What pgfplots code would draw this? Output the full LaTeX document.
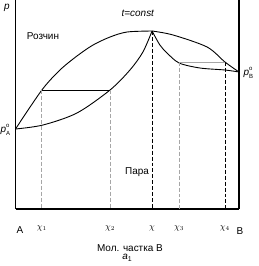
\documentclass[border=0pt]{standalone}
\usepackage{amsmath}
\usepackage{fontspec}
\setmainfont{Liberation Sans}
\usepackage{pgfplots}
\pgfplotsset{compat=1.18}
\newcommand{\pzero}[1]{\textit{p}\rlap{\raisebox{5.5pt}{\fontsize{6}{6}\selectfont o}}\raisebox{-3pt}{\fontsize{6}{6}\selectfont #1}}
\begin{document}
\fontsize{10}{12}\selectfont
\begin{tikzpicture}
\begin{axis}[
  width=223.5bp, height=209bp, scale only axis,
  xmin=0, xmax=1, ymin=0, ymax=209,
  axis x line=bottom, axis y line=left,
  axis line style={-, line width=1.1pt},
  ytick=\empty,
  xtick={0.118,0.423,0.611,0.732,0.937},
  xticklabels={$\chi_1$,$\chi_2$,$\chi$,$\chi_3$,$\chi_4$},
  major tick length=0pt,
  xticklabel style={yshift=-13pt, font=\small},
  clip=false,
]
% liquid curve (upper)
\addplot[black, line width=0.9pt, smooth] coordinates {
 (0,80) (0.118,119) (0.199,139) (0.275,153) (0.347,164) (0.423,172) (0.499,177) (0.611,178)};
\addplot[black, line width=0.9pt, smooth] coordinates {
 (0.611,178) (0.705,174) (0.857,162) (0.937,147) (1,137)};
% vapour curve (lower)
\addplot[black, line width=0.9pt, smooth] coordinates {
 (0,80) (0.123,84) (0.275,96) (0.423,119) (0.512,139) (0.570,157) (0.611,178)};
\addplot[black, line width=0.9pt, smooth, tension=0.5] coordinates {
 (0.611,178) (0.646,164) (0.678,156) (0.732,146) (0.825,141) (0.937,139) (1,137)};
% tie lines
\addplot[black, line width=0.9pt] coordinates {(0.118,119) (0.423,119)};
\addplot[gray!70, line width=0.9pt] coordinates {(0.732,147) (0.937,147)};
% vertical dashed lines
\addplot[gray!70, line width=0.9pt, dash pattern=on 4pt off 2pt] coordinates {(0.118,119) (0.118,0)};
\addplot[gray!70, line width=0.9pt, dash pattern=on 4pt off 2pt] coordinates {(0.423,119) (0.423,0)};
\addplot[black, line width=0.8pt, dash pattern=on 4pt off 2pt] coordinates {(0.611,178) (0.611,0)};
\addplot[gray!70, line width=0.9pt, dash pattern=on 4pt off 2pt] coordinates {(0.732,147) (0.732,0)};
\addplot[black, line width=0.8pt, dash pattern=on 4pt off 2pt] coordinates {(0.937,147) (0.937,0)};
% right border
\draw[line width=1.1pt] (axis cs:1,0) -- (axis cs:1,209);
% labels
\node at (axis cs:-0.038,201) {\textit{p}};
\node at (axis cs:0.548,196) {\textit{t=const}};
\node at (axis cs:0.123,173) {Розчин};
\node at (axis cs:0.544,37) {Пара};
\node[inner sep=0pt] at (axis cs:-0.045,79) {\pzero{A}};
\node[inner sep=0pt] at (axis cs:1.042,136) {\pzero{B}};
\node at (axis cs:0.02,-21) {A};
\node at (axis cs:1.004,-22) {B};
\node at (axis cs:0.512,-39) {Мол. частка В};
\node at (axis cs:0.5,-49) {$\textit{a}_{\textup{1}}$};
\coordinate (bl) at (axis cs:-0.0694,-57);
\coordinate (tr) at (axis cs:1.085,209);
\end{axis}
\pgfresetboundingbox
\path[use as bounding box] (bl) rectangle (tr);
\end{tikzpicture}
\end{document}
